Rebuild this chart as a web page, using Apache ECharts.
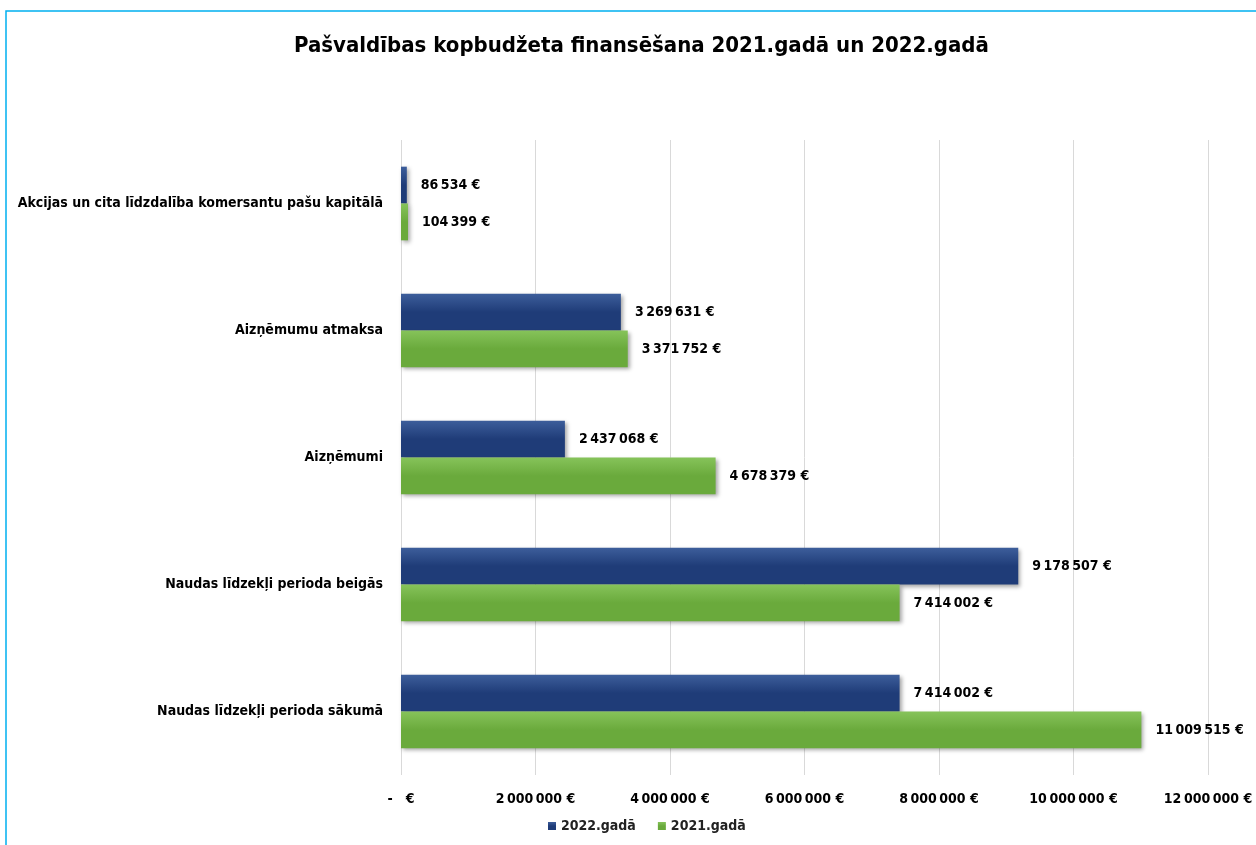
<!DOCTYPE html>
<html>
<head>
<meta charset="utf-8">
<script src="https://cdn.jsdelivr.net/npm/echarts@6/dist/echarts.min.js"></script>
<style>
html,body{margin:0;padding:0;background:#fff;}
#c{width:1256px;height:845px;}
</style>
</head>
<body>
<div id="c"></div>
<script>
// Categories listed bottom-up (ECharts category y-axis starts at bottom)
const categories = [
  'Naudas līdzekļi perioda sākumā',
  'Naudas līdzekļi perioda beigās',
  'Aizņēmumi',
  'Aizņēmumu atmaksa',
  'Akcijas un cita līdzdalība komersantu pašu kapitālā'
];
const values2022 = [7414002, 9178507, 2437068, 3269631, 86534];
const values2021 = [11009515, 7414002, 4678379, 3371752, 104399];
const seriesNames = ['2022.gadā', '2021.gadā'];
const axisMin = 0, axisMax = 12000000, axisInterval = 2000000;

const FONT = '"Liberation Sans Narrow", "Arial Narrow", "DejaVu Sans Condensed", sans-serif';

function fmt(v) {
  if (v === 0) return '-   €';
  return String(Math.round(v)).replace(/\B(?=(\d{3})+(?!\d))/g, '\u2009') + '\u00a0€';
}

const chart = echarts.init(document.getElementById('c'), null, {renderer: 'canvas'});

function barSeries(name, data, top, bottom) {
  return {
    name: name,
    type: 'bar',
    data: data,
    barGap: '0%',
    barCategoryGap: '42%',
    itemStyle: {
      color: new echarts.graphic.LinearGradient(0, 0, 0, 1, [
        {offset: 0, color: top},
        {offset: 0.5, color: bottom},
        {offset: 1, color: bottom}
      ]),
      shadowBlur: 4,
      shadowOffsetX: 2,
      shadowOffsetY: 2,
      shadowColor: 'rgba(0,0,0,0.35)'
    },
    label: {
      show: true,
      position: 'right',
      distance: 14,
      formatter: p => fmt(p.value),
      fontFamily: FONT,
      fontWeight: 'bold',
      fontSize: 14,
      color: '#000'
    }
  };
}

chart.setOption({
  animation: false,
  backgroundColor: '#fff',
  graphic: [{
    type: 'rect',
    shape: {x: 6, y: 11, width: 1400, height: 1000},
    style: {fill: 'none', stroke: '#00B0F0', lineWidth: 1.5},
    silent: true,
    z: -10
  }],
  title: {
    text: 'Pašvaldības kopbudžeta finansēšana 2021.gadā un 2022.gadā',
    left: 289,
    top: 30,
    textStyle: {fontFamily: FONT, fontWeight: 'bold', fontSize: 22, color: '#000'}
  },
  legend: {
    data: seriesNames,
    bottom: 7,
    left: 543,
    itemWidth: 8,
    itemHeight: 8,
    itemGap: 22,
    icon: 'rect',
    textStyle: {fontFamily: FONT, fontWeight: 'bold', fontSize: 14, color: '#222'}
  },
  grid: {left: 401, right: 48, top: 140, bottom: 70, containLabel: false},
  xAxis: {
    type: 'value',
    min: axisMin,
    max: axisMax,
    interval: axisInterval,
    axisLine: {show: false},
    axisTick: {show: false},
    splitLine: {show: true, lineStyle: {color: '#D9D9D9', width: 1}},
    axisLabel: {
      formatter: fmt,
      margin: 17,
      fontFamily: FONT,
      fontWeight: 'bold',
      fontSize: 14,
      color: '#000'
    }
  },
  yAxis: {
    type: 'category',
    data: categories,
    axisLine: {show: false},
    axisTick: {show: false},
    axisLabel: {
      margin: 18,
      fontFamily: FONT,
      fontWeight: 'bold',
      fontSize: 14,
      color: '#000'
    }
  },
  series: [
    barSeries(seriesNames[0], values2022, '#3D5E9B', '#1F3C78'),
    barSeries(seriesNames[1], values2021, '#86C35A', '#6AAA3C')
  ]
});
</script>
</body>
</html>
